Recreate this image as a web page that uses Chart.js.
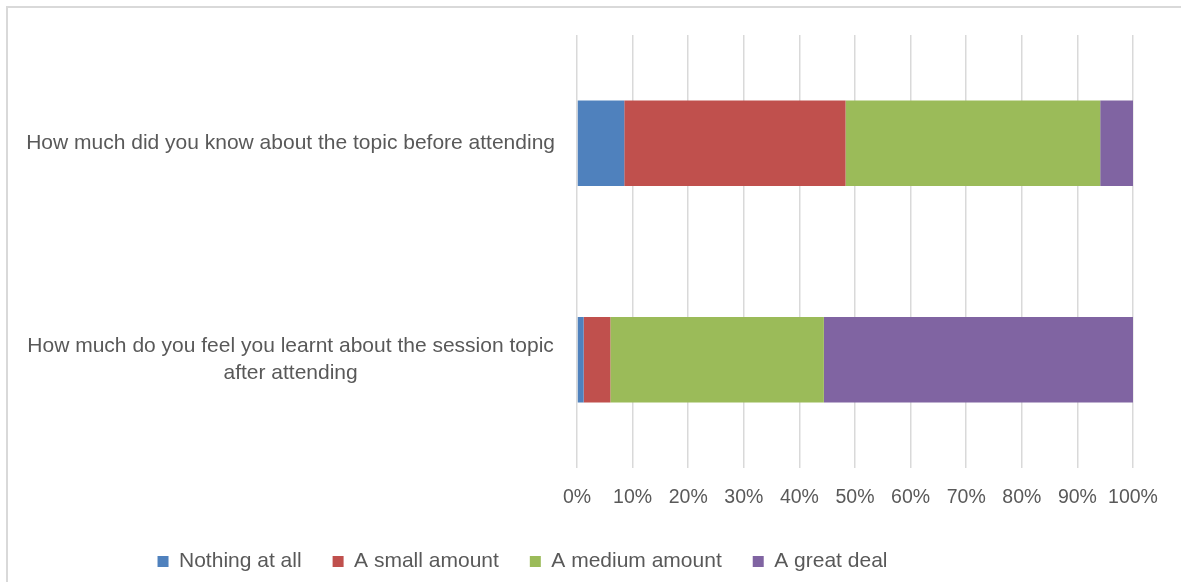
<!DOCTYPE html>
<html>
<head>
<meta charset="utf-8">
<script src="https://cdn.jsdelivr.net/npm/chart.js@4.4.1/dist/chart.umd.min.js"></script>
<style>
  html, body { margin: 0; padding: 0; background: #fff; overflow: hidden; }
  #wrap { position: relative; width: 1181px; height: 582px; }
  #frame { position: absolute; left: 6px; top: 6px; width: 1200px; height: 600px;
           border-top: 2px solid #d9d9d9; border-left: 2px solid #d9d9d9; }
  canvas { position: absolute; left: 0; top: 0; }
</style>
</head>
<body>
<div id="wrap">
  <div id="frame"></div>
  <canvas id="surveyChart" width="1181" height="582"></canvas>
</div>
<script>
// questions (second one wraps onto two lines)
const questions = [
  'How much did you know about the topic before attending',
  ['How much do you feel you learnt about the session topic', 'after attending']
];

// answer shares per question, in percent
const nothingAtAll = [8.5, 1.2];
const smallAmount = [39.8, 4.8];
const mediumAmount = [45.8, 38.4];
const greatDeal = [5.9, 55.6];

const tickValues = [0, 10, 20, 30, 40, 50, 60, 70, 80, 90, 100];

const fontFamily = '"Liberation Sans", Arial, sans-serif';
const textColor = '#595959';

// keep the legend short and sitting a little left of centre
const legendPlacement = {
  id: 'legendPlacement',
  beforeInit(chart) {
    const legend = chart.legend;
    const fit = legend.fit.bind(legend);
    legend.fit = () => { fit(); legend.height = 60; };
  },
  afterLayout(chart) {
    const legend = chart.legend;
    legend.top = 520;
    legend.left -= 44;
    legend.right -= 44;
  },
};

const ctx = document.getElementById('surveyChart').getContext('2d');
const surveyChart = new Chart(ctx, {
  type: 'bar',
  data: {
    labels: questions,
    datasets: [
      { label: 'Nothing at all', data: nothingAtAll, backgroundColor: '#4F81BD' },
      { label: 'A small amount', data: smallAmount, backgroundColor: '#C0504D' },
      { label: 'A medium amount', data: mediumAmount, backgroundColor: '#9BBB59' },
      { label: 'A great deal', data: greatDeal, backgroundColor: '#8064A2' },
    ],
  },
  plugins: [legendPlacement],
  options: {
    indexAxis: 'y',
    responsive: false,
    animation: false,
    events: [],
    datasets: {
      bar: { categoryPercentage: 1, barPercentage: 0.395 },
    },
    layout: { padding: { top: 35, right: 48, left: 0, bottom: 0 } },
    scales: {
      x: {
        stacked: true,
        min: 0,
        max: 100,
        afterBuildTicks: (scale) => { scale.ticks = tickValues.map((v) => ({ value: v })); },
        afterFit: (scale) => { scale.height = 54; },
        grid: { color: '#d9d9d9', lineWidth: 1.5, drawTicks: false },
        border: { display: false },
        ticks: {
          color: textColor,
          padding: 18,
          maxRotation: 0,
          minRotation: 0,
          autoSkip: false,
          font: { family: fontFamily, size: 19.5 },
          callback: (v) => v + '%',
        },
      },
      y: {
        stacked: true,
        grid: { display: false, drawTicks: false },
        border: { display: false },
        afterFit: (scale) => {
          scale.width = 577;
          scale.paddingTop = 0;
          scale.paddingBottom = 0;
        },
        ticks: {
          color: textColor,
          padding: 22,
          crossAlign: 'center',
          font: { family: fontFamily, size: 21, lineHeight: 1.3 },
        },
      },
    },
    plugins: {
      tooltip: { enabled: false },
      legend: {
        position: 'bottom',
        labels: {
          color: textColor,
          boxWidth: 11,
          boxHeight: 11,
          padding: 31,
          font: { family: fontFamily, size: 21 },
        },
      },
    },
  },
});
</script>
</body>
</html>
